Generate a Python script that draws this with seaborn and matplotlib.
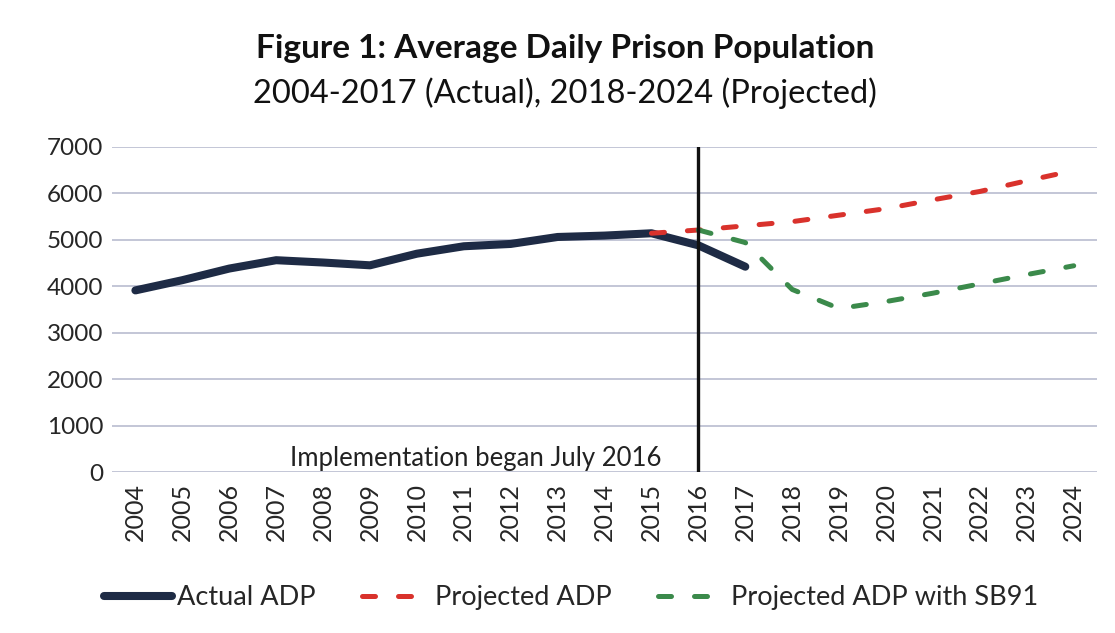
import pandas as pd
import matplotlib
matplotlib.use("Agg")
import matplotlib.pyplot as plt
import seaborn as sns

# values
years = list(range(2004, 2025))
actual_years = list(range(2004, 2018))
actual_adp = [3910, 4130, 4380, 4560, 4510, 4450, 4700, 4860, 4910, 5060, 5090, 5140, 4880, 4420]
proj_years = list(range(2015, 2025))
projected_adp = [5140, 5210, 5300, 5390, 5530, 5670, 5860, 6040, 6270, 6490]
sb91_years = list(range(2016, 2025))
projected_sb91 = [5210, 4940, 3930, 3520, 3670, 3850, 4050, 4250, 4440]
y_ticks = [0, 1000, 2000, 3000, 4000, 5000, 6000, 7000]

sns.set_theme(style="white")
plt.rcParams['font.family'] = ['Lato', 'DejaVu Sans']

fig = plt.figure(figsize=(11.15, 6.33), dpi=100)
ax = fig.add_axes([0.1004, 0.2543, 0.8836, 0.5137])

navy = '#1e2b45'
red = '#d9322c'
green = '#3b8a4b'
dash = (0, (2.6, 4.6))

sns.lineplot(x=actual_years, y=actual_adp, ax=ax, color=navy, linewidth=5.8,
             label='Actual ADP', solid_capstyle='round', solid_joinstyle='round')
sns.lineplot(x=proj_years, y=projected_adp, ax=ax, color=red, linewidth=3.6,
             label='Projected ADP', linestyle=dash, dash_capstyle='round')
sns.lineplot(x=sb91_years, y=projected_sb91, ax=ax, color=green, linewidth=3.6,
             label='Projected ADP with SB91', linestyle=dash, dash_capstyle='round')

ax.axvline(2016, ymin=0, ymax=1, color='#111111', linewidth=2.4, zorder=5)
ax.text(2011.25, 20, 'Implementation began July 2016', ha='center', va='bottom',
        fontsize=18.5, color='#222222')

ax.set_xlim(2003.5, 2024.5)
ax.set_ylim(0, 7000)
ax.set_yticks(y_ticks)
ax.set_xticks(years)
ax.set_xticklabels([str(y) for y in years], rotation=90, fontsize=18)
ax.tick_params(axis='y', labelsize=17.5, pad=6, length=0)
ax.tick_params(axis='x', pad=8, length=0)
ax.grid(axis='y', color='#b3b7cc', linewidth=1.1)
ax.set_axisbelow(True)
for s in ax.spines.values():
    s.set_visible(False)
ax.set_xlabel('')
ax.set_ylabel('')

fig.text(0.507, 0.924, 'Figure 1: Average Daily Prison Population', ha='center',
         va='center', fontsize=24, fontweight='bold', color='#111111')
fig.text(0.507, 0.852, '2004-2017 (Actual), 2018-2024 (Projected)', ha='center',
         va='center', fontsize=23.5, color='#111111')

ax.legend_.remove()
handles, labels = ax.get_legend_handles_labels()
fig.legend(handles, labels, loc='center', bbox_to_anchor=(0.512, 0.056), ncol=3,
           frameon=False, fontsize=19.5, handlelength=2.5, handletextpad=0.2,
           columnspacing=1.7)

fig.savefig('out.png', dpi=100)
